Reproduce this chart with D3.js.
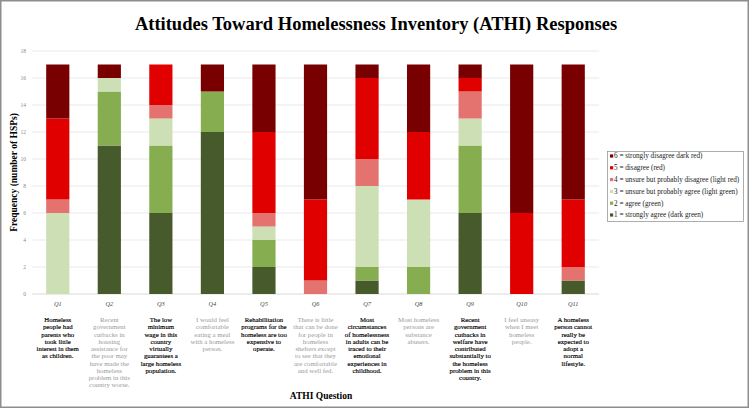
<!DOCTYPE html>
<html><head><meta charset="utf-8">
<script src="https://cdn.jsdelivr.net/npm/d3@7"></script>
<style>body{margin:0;background:#fff}svg{display:block}</style>
</head><body>
<svg id="c" width="749" height="408"></svg>
<script>
const categories = ["Q1","Q2","Q3","Q4","Q5","Q6","Q7","Q8","Q9","Q10","Q11"];
const stronglyAgree   = [0,11,6,12,2,0,1,0,6,0,1];
const agree           = [0,4,5,3,2,0,1,2,5,0,0];
const unsureAgree     = [6,1,2,0,1,0,6,5,2,0,0];
const unsureDisagree  = [1,0,1,0,1,1,2,0,2,0,1];
const disagree        = [6,0,3,0,6,6,6,5,1,6,5];
const stronglyDisagree= [4,1,0,2,5,10,1,5,1,11,10];
const seriesNames = ["1 = strongly agree (dark green)","2 = agree (green)","3 = unsure but probably agree (light green)","4 = unsure but probably disagree (light red)","5 = disagree (red)","6 = strongly disagree dark red)"];
const seriesColors = ["#475a2b","#86ad50","#cde0b5","#e4736f","#e00000","#780000"];
const yTicks = [0,2,4,6,8,10,12,14,16,18];
const questionLines = [
 ["Homeless","people had","parents who","took little","interest in them","as children."],
 ["Recent","government","cutbacks in","housing","assistance for","the poor may","have made the","homeless","problem in this","country worse."],
 ["The low","minimum","wage in this","country","virtually","guarantees a","large homeless","population."],
 ["I would feel","comfortable","eating a meal","with a homeless","person."],
 ["Rehabilitation","programs for the","homeless are too","expensive to","operate."],
 ["There is little","that can be done","for people in","homeless","shelters except","to see that they","are comfortable","and well fed."],
 ["Most","circumstances","of homelessness","in adults can be","traced to their","emotional","experiences in","childhood."],
 ["Most homeless","persons are","substance","abusers."],
 ["Recent","government","cutbacks in","welfare have","contributed","substantially to","the homeless","problem in this","country."],
 ["I feel uneasy","when I meet","homeless","people."],
 ["A homeless","person cannot","really be","expected to","adopt a","normal","lifestyle."]
];

const svg = d3.select("#c");
const serif = "'Liberation Serif','Times New Roman',serif";
svg.append("rect").attr("x",0.75).attr("y",0.75).attr("width",747.5).attr("height",406.5)
  .attr("fill","#fff").attr("stroke","#8e8e8e").attr("stroke-width",1.5);

const mL = 32, mR = 599, mT = 51, mB = 294;
const x = d3.scaleBand().domain(categories).range([mL,mR]).paddingInner(0.55).paddingOuter(0.275);
const y = d3.scaleLinear().domain([0,18]).range([mB,mT]);

// grid
svg.append("g").selectAll("line").data(yTicks).join("line")
  .attr("x1",mL).attr("x2",mR).attr("y1",d=>y(d)).attr("y2",d=>y(d))
  .attr("stroke",d=>d===0?"#d9d9d9":"#e9e9e9").attr("stroke-width",1);
svg.append("g").selectAll("text").data(yTicks).join("text")
  .attr("x",26).attr("y",d=>y(d)+2).attr("text-anchor","end")
  .attr("font-family",serif).attr("font-size",5.5).attr("fill","#8a8a8a").text(d=>d);

// stacked data
const table = categories.map((c,i)=>({cat:c,s0:stronglyAgree[i],s1:agree[i],s2:unsureAgree[i],s3:unsureDisagree[i],s4:disagree[i],s5:stronglyDisagree[i]}));
const keys = ["s0","s1","s2","s3","s4","s5"];
const stack = d3.stack().keys(keys)(table);
svg.append("g").selectAll("g").data(stack).join("g").attr("fill",(d,i)=>seriesColors[i])
  .selectAll("rect").data(d=>d.filter(v=>v[1]-v[0]>0)).join("rect")
  .attr("x",d=>x(d.data.cat)).attr("width",x.bandwidth())
  .attr("y",d=>y(d[1])).attr("height",d=>y(d[0])-y(d[1]));

// category labels
svg.append("g").selectAll("text").data(categories).join("text")
  .attr("x",d=>x(d)+x.bandwidth()/2).attr("y",306).attr("text-anchor","middle")
  .attr("font-family",serif).attr("font-style","italic").attr("font-size",6.3).attr("fill","#444").text(d=>d);

// question texts
categories.forEach((c,i)=>{
  const dark = i%2===0;
  const t = svg.append("text").attr("text-anchor","middle").attr("font-family",serif)
    .attr("font-size",6.8).attr("fill", dark?"#000":"#9a9a9a")
    .attr("stroke", dark?"#000":"none").attr("stroke-width",0.15);
  questionLines[i].forEach((ln,j)=>{
    t.append("tspan").attr("x",x(c)+x.bandwidth()/2).attr("y",322+j*7.25).text(ln);
  });
});

// titles
svg.append("text").attr("x",376).attr("y",30).attr("text-anchor","middle")
  .attr("font-family",serif).attr("font-weight","bold").attr("font-size",18.5).attr("fill","#000")
  .text("Attitudes Toward Homelessness Inventory (ATHI) Responses");
svg.append("text").attr("transform",`translate(17,${(mT+mB)/2}) rotate(-90)`).attr("text-anchor","middle")
  .attr("font-family",serif).attr("font-weight","bold").attr("font-size",9.5).attr("fill","#000")
  .text("Frequency (number of HSPs)");
svg.append("text").attr("x",321).attr("y",399).attr("text-anchor","middle")
  .attr("font-family",serif).attr("font-weight","bold").attr("font-size",9.5).attr("fill","#000")
  .text("ATHI Question");

// legend
const lg = svg.append("g");
lg.append("rect").attr("x",607.5).attr("y",151.5).attr("width",136).attr("height",70)
  .attr("fill","#fff").attr("stroke","#999").attr("stroke-width",0.8);
const order = [5,4,3,2,1,0];
order.forEach((si,k)=>{
  const yy = 156 + k*11.8;
  lg.append("rect").attr("x",610).attr("y",yy-1.6).attr("width",3.2).attr("height",3.2).attr("fill",seriesColors[si]);
  lg.append("text").attr("x",614).attr("y",yy+2.4).attr("font-family",serif).attr("font-size",7.2)
    .attr("fill","#222").text(seriesNames[si]);
});
</script>
</body></html>
